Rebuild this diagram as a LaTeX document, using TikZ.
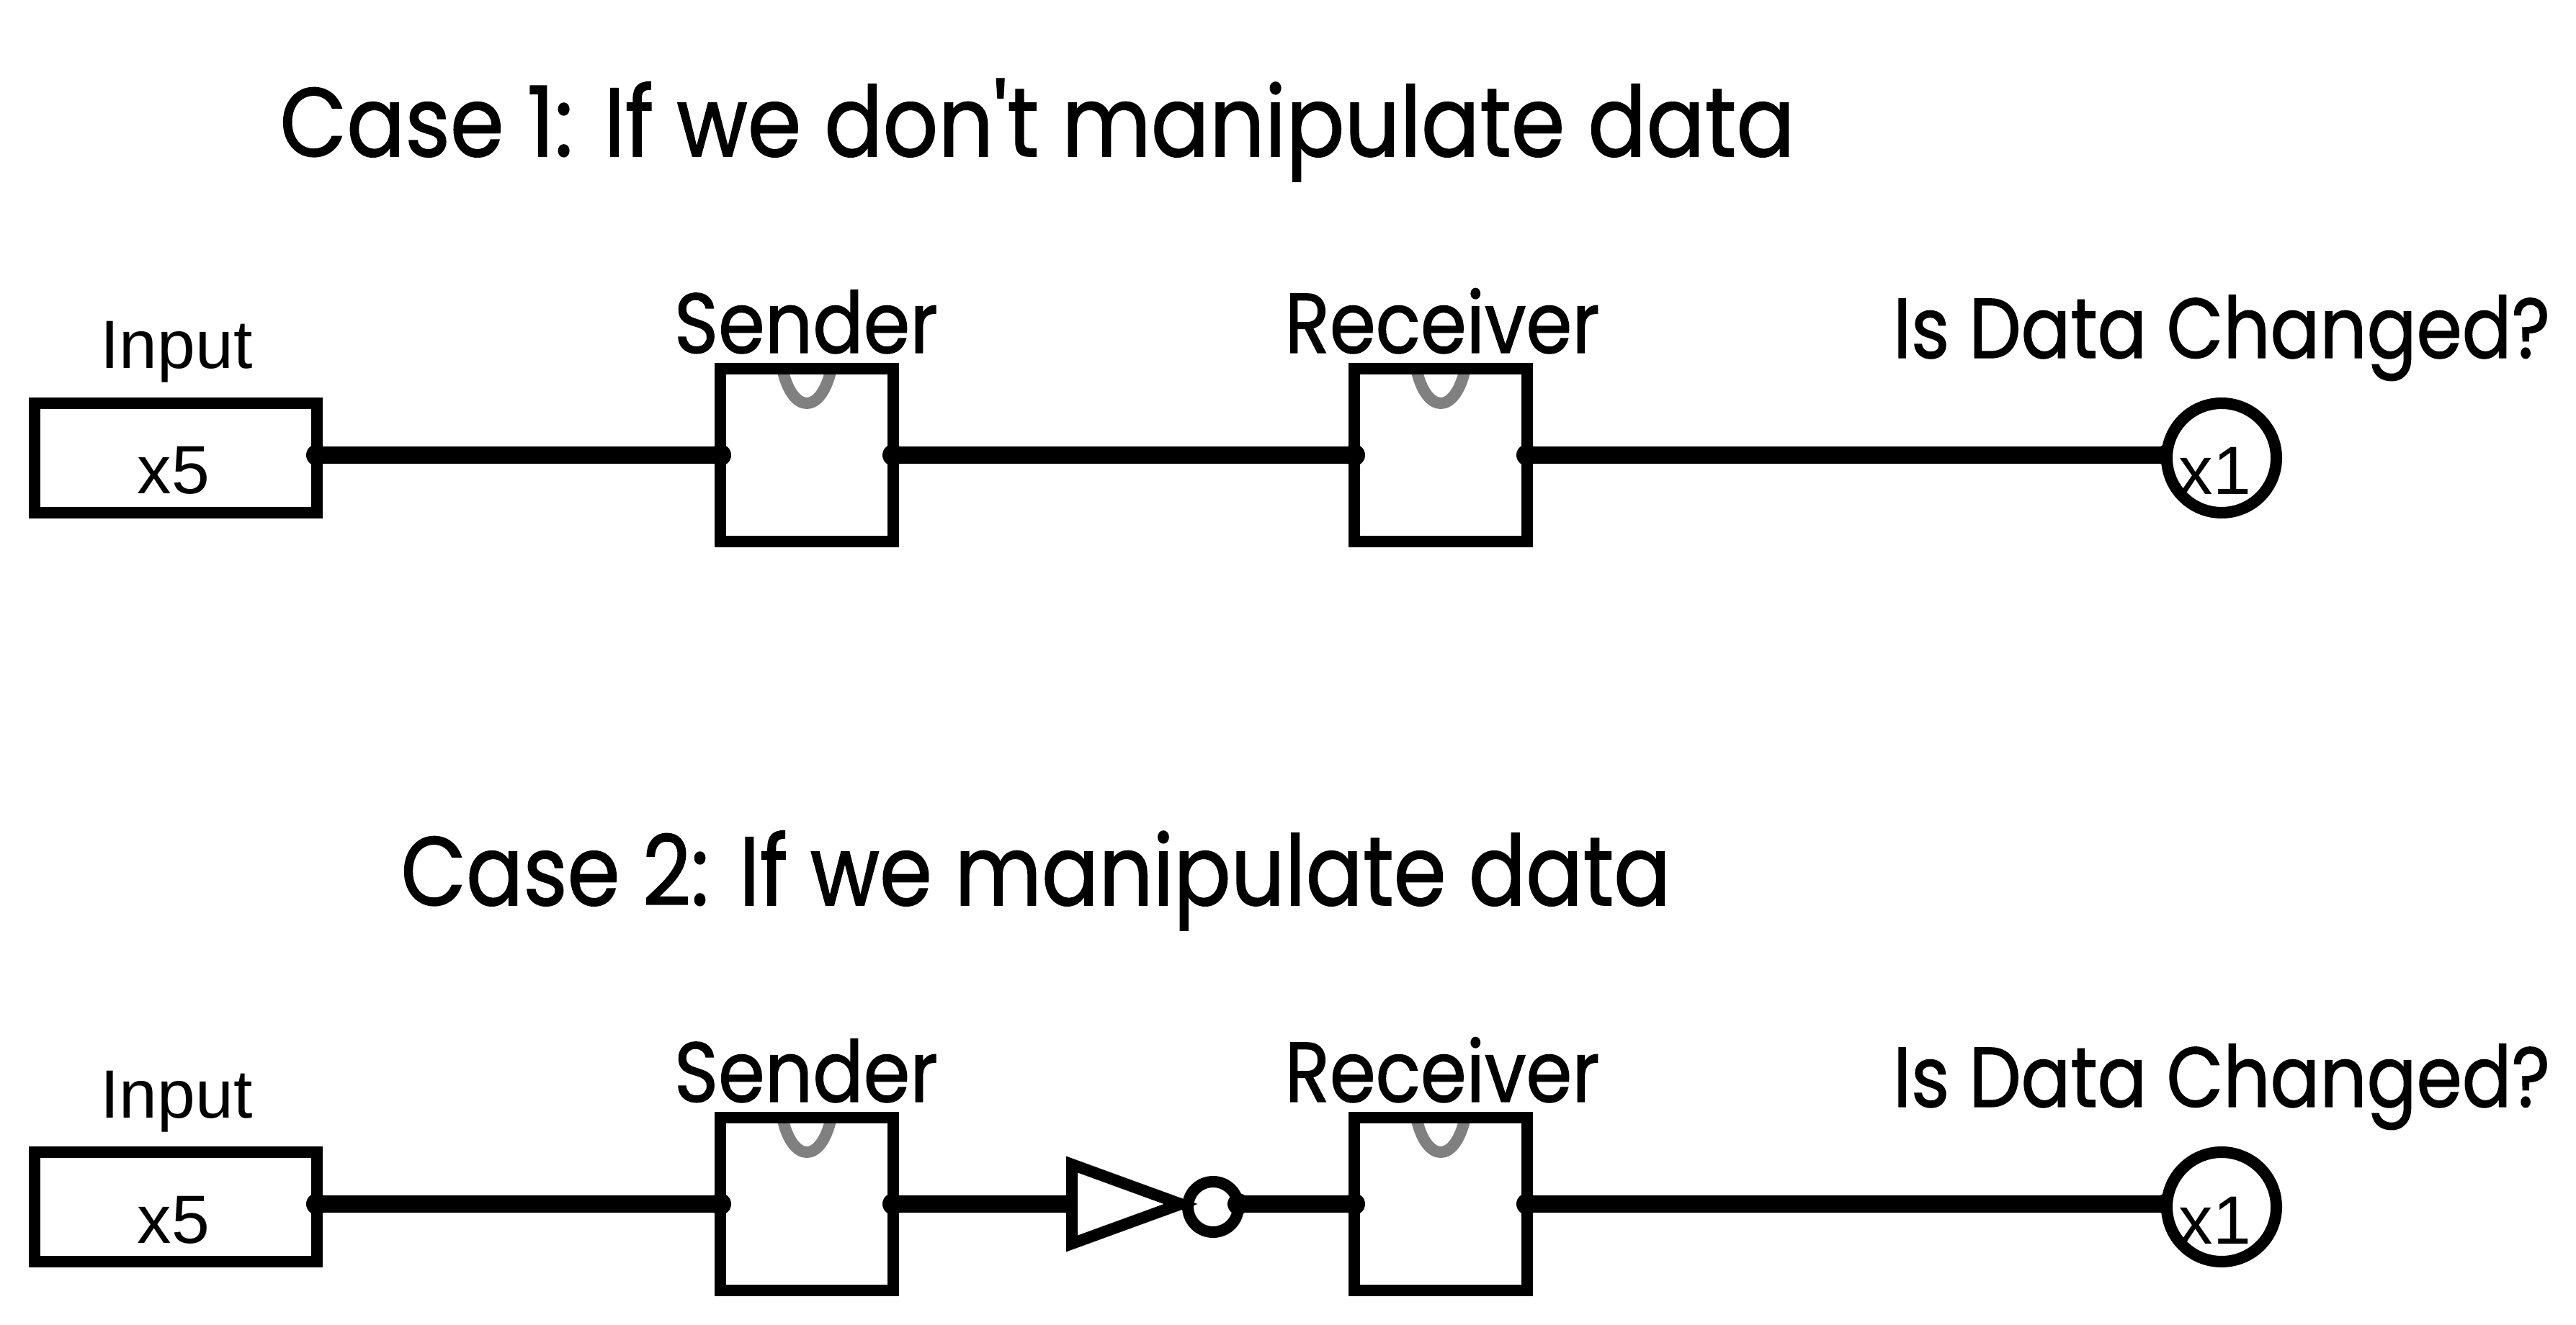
\documentclass[tikz,border=0pt]{standalone}
\usepackage{graphicx}
\usepackage{fontspec}
\setmainfont{Liberation Sans}
\newfontfamily\handfont[FakeBold=1.2]{Poppins}
\usetikzlibrary{backgrounds,shapes.geometric}

\tikzset{
	blockline/.style={draw,line width=0.16cm,inner sep=0,outer sep=0},
	inputbox/.style={blockline,rectangle,minimum width=3.92cm,minimum height=1.52cm},
	ffbox/.style={blockline,rectangle,minimum width=2.4cm,minimum height=2.4cm},
	checkcircle/.style={blockline,circle,fill=white,minimum size=1.52cm},
	notgate/.style={blockline,isosceles triangle,isosceles triangle stretches,fill=white,minimum width=1.10cm,minimum height=1.51cm,anchor=apex},
	notbubble/.style={blockline,circle,minimum size=0.7cm},
	wire/.style={line width=0.24cm},
	clocknotch/.style={line width=0.16cm,color=black!50},
	plainlabel/.style={anchor=base,inner sep=0,font=\fontsize{27}{32}\selectfont},
	handlabel/.style={anchor=base,inner sep=0,font=\handfont\fontsize{33.5}{40}\selectfont},
	titlelabel/.style={anchor=base,inner sep=0,font=\handfont\fontsize{38.5}{46}\selectfont}
}
\newcommand{\fitw}[2]{\resizebox{#1}{\height}{#2}}

\begin{document}
\begin{tikzpicture}
		\useasboundingbox (0,0) rectangle (35.76,-18.4);
		
		%titles
		\node[titlelabel] (title1) at (14.40,-2.17) {\fitw{21.03cm}{Case 1: If we don't manipulate data}};
		\node[titlelabel] (title2) at (14.38,-12.57) {\fitw{17.63cm}{Case 2: If we manipulate data}};
		
		%case 1 blocks
		\node[inputbox] (input1) at (2.44,-6.36) {};
		\node[ffbox] (sender1) at (11.2,-6.32) {};
		\node[ffbox] (receiver1) at (20,-6.32) {};
		\node[checkcircle] (check1) at (30.84,-6.36) {};
		
		%case 2 blocks
		\node[inputbox] (input2) at (2.44,-16.76) {};
		\node[ffbox] (sender2) at (11.2,-16.72) {};
		\node[notgate] (not2) at (16.39,-16.72) {};
		\node[notbubble] (bubble2) at (16.84,-16.76) {};
		\node[ffbox] (receiver2) at (20,-16.72) {};
		\node[checkcircle] (check2) at (30.84,-16.76) {};
		
		%case 1 labels
		\node[plainlabel] (inputname1) at (2.45,-5.12) {Input};
		\node[plainlabel] (inputval1) at (2.41,-6.86) {x5};
		\node[handlabel] (sendername1) at (11.19,-4.9) {\fitw{3.66cm}{Sender}};
		\node[handlabel] (receivername1) at (20.02,-4.9) {\fitw{4.37cm}{Receiver}};
		\node[handlabel] (checkname1) at (30.84,-4.97) {\fitw{9.12cm}{Is Data Changed?}};
		\node[plainlabel] (checkval1) at (30.75,-6.87) {x1};
		
		%case 2 labels
		\node[plainlabel] (inputname2) at (2.45,-15.52) {Input};
		\node[plainlabel] (inputval2) at (2.41,-17.26) {x5};
		\node[handlabel] (sendername2) at (11.19,-15.3) {\fitw{3.66cm}{Sender}};
		\node[handlabel] (receivername2) at (20.02,-15.3) {\fitw{4.37cm}{Receiver}};
		\node[handlabel] (checkname2) at (30.84,-15.37) {\fitw{9.12cm}{Is Data Changed?}};
		\node[plainlabel] (checkval2) at (30.75,-17.27) {x1};
		
		\begin{pgfonlayer}{background}
			%clock marks
			\foreach \ff in {sender1,receiver1,sender2,receiver2}
				\draw[clocknotch] ([xshift=-0.34cm]\ff.north) .. controls ([xshift=-0.2cm,yshift=-0.64cm]\ff.north) and ([xshift=0.2cm,yshift=-0.64cm]\ff.north) .. ([xshift=0.34cm]\ff.north);
			
			%case 1 wires
			\draw[wire] (input1.east |- sender1.west) -- (sender1.west);
			\draw[wire] (sender1.east) -- (receiver1.west);
			\draw[wire] (receiver1.east) -- (check1.west |- receiver1.east);
			\fill (input1.east |- sender1.west) circle(0.15) (sender1.west) circle(0.15);
			\fill (sender1.east) circle(0.15) (receiver1.west) circle(0.15);
			\fill (receiver1.east) circle(0.15) (check1.west |- receiver1.east) circle(0.15);
			
			%case 2 wires
			\draw[wire] (input2.east |- sender2.west) -- (sender2.west);
			\draw[wire] (sender2.east) -- (not2.west);
			\draw[wire] (receiver2.east) -- (check2.west |- receiver2.east);
			\fill (input2.east |- sender2.west) circle(0.15) (sender2.west) circle(0.15);
			\fill (sender2.east) circle(0.15) (not2.west) circle(0.15);
			\fill (receiver2.east) circle(0.15) (check2.west |- receiver2.east) circle(0.15);
		\end{pgfonlayer}
		
		%inverter output sits over its bubble
		\draw[wire] (bubble2.east |- receiver2.west) -- (receiver2.west);
		\fill (bubble2.east |- receiver2.west) circle(0.15) (receiver2.west) circle(0.15);
	\end{tikzpicture}
\end{document}
